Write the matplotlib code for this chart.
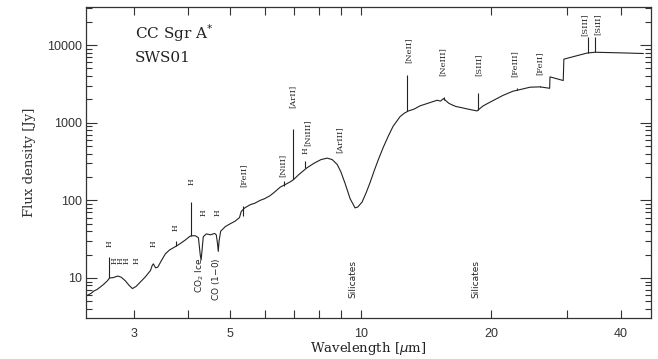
"""
ISO SWS01 spectrum of the Galactic Centre (Sgr A*)
"""

import numpy as np
import matplotlib
matplotlib.use("Agg")
import matplotlib.pyplot as plt
import matplotlib.ticker as ticker

plt.rc('font', size=9)

#------------------------------------------------------------------------
# continuum (wavelength in micron, flux density in Jy)
#------------------------------------------------------------------------
wave = [2.34, 2.38, 2.42, 2.46, 2.50, 2.55, 2.60, 2.63, 2.68, 2.75,
        2.80, 2.86, 2.92, 2.97, 3.03, 3.10, 3.18, 3.27, 3.30, 3.32,
        3.36, 3.40, 3.46, 3.54, 3.62, 3.74, 3.84, 3.94, 4.02, 4.06,
        4.15, 4.22, 4.26, 4.28, 4.30, 4.33, 4.40, 4.50, 4.60, 4.64,
        4.67, 4.69, 4.71, 4.75, 4.87, 5.00, 5.13, 5.25, 5.30, 5.40,
        5.56, 5.70, 5.86, 6.00, 6.18, 6.35, 6.52, 6.70, 6.90, 7.00,
        7.20, 7.50, 7.80, 8.10, 8.37, 8.60, 8.83, 9.00, 9.21, 9.46,
        9.71, 9.85, 10.08, 10.30, 10.52, 10.75, 10.98, 11.28, 11.60, 11.89,
        12.34, 12.60, 12.90, 13.30, 13.72, 14.30, 15.03, 15.30, 15.55, 15.70,
        16.00, 16.27, 16.60, 16.98, 17.70, 18.58, 19.20, 19.91, 21.33, 22.50,
        23.00, 24.64, 26.00, 27.35, 27.40, 29.40, 29.50, 33.35, 34.80, 40.00,
        45.00]
flux = [6.0, 6.3, 6.8, 7.1, 7.6, 8.3, 9.2, 10.0, 10.1, 10.6,
        10.2, 9.2, 8.0, 7.3, 7.8, 8.9, 10.3, 12.5, 14.5, 15.2,
        13.5, 13.8, 16.5, 20.5, 23.0, 25.5, 28.0, 31.0, 34.0, 35.0,
        35.0, 33.0, 20.0, 17.0, 22.0, 34.0, 37.0, 36.0, 37.5, 36.0,
        28.0, 22.0, 30.0, 40.0, 46.0, 50.0, 54.0, 60.0, 72.0, 80.0,
        88.0, 92.0, 100.0, 105.0, 115.0, 130.0, 148.0, 160.0, 175.0, 185.0,
        215.0, 260.0, 300.0, 335.0, 350.0, 335.0, 290.0, 235.0, 165.0, 105.0,
        80.0, 82.0, 95.0, 125.0, 170.0, 240.0, 330.0, 480.0, 680.0, 900.0,
        1200.0, 1320.0, 1420.0, 1500.0, 1650.0, 1780.0, 1950.0, 1900.0, 2050.0, 1950.0,
        1780.0, 1700.0, 1620.0, 1580.0, 1500.0, 1420.0, 1650.0, 1840.0, 2250.0, 2550.0,
        2620.0, 2870.0, 2900.0, 2780.0, 3900.0, 3500.0, 6600.0, 7900.0, 8100.0, 7950.0,
        7800.0]

# emission lines: wavelength, base, peak
line_wave = [2.626, 3.74, 4.052, 5.34, 6.636, 6.985, 7.46,
             12.81, 15.55, 18.71, 22.93, 25.99, 33.48, 34.82]
line_base = [10.0, 25.5, 35.0, 62.0, 155.0, 190.0, 262.0,
             1420.0, 1950.0, 1440.0, 2620.0, 2900.0, 7950.0, 8100.0]
line_peak = [18.6, 30.0, 95.0, 85.0, 175.0, 830.0, 320.0,
             4100.0, 2150.0, 2400.0, 2800.0, 3000.0, 12700.0, 12700.0]

# line identifications: text, wavelength, flux (centre of rotated label)
# (the H\nH\nH label is a group of three H lines side by side)
id_text = ["H", "H\nH\nH", "H", "H", "H", "H", "H", "H",
           "[FeII]", "[NiII]", "[ArII]", "H", "[NiIII]", "[ArIII]",
           "[NeII]", "[NeIII]", "[SIII]", "[FeIII]", "[FeII]",
           "[SIII]", "[SiII]"]
id_wave = [2.627, 2.79, 3.03, 3.32, 3.73, 4.06, 4.33, 4.665,
           5.36, 6.62, 6.98, 7.45, 7.53, 8.92,
           12.88, 15.51, 18.69, 22.75, 25.98,
           33.0, 35.2]
id_flux = [27.4, 16.6, 16.6, 28.0, 44.0, 172.0, 68.6, 68.6,
           212.0, 284.0, 2197.0, 443.0, 735.0, 597.0,
           8590.0, 6210.0, 5510.0, 5840.0, 5840.0,
           18580.0, 18580.0]

# absorption features: text, wavelength, flux at top of label
abs_text = ["CO$_2$ Ice", "CO (1$-$0)", "Silicates", "Silicates"]
abs_wave = [4.26, 4.64, 9.61, 18.49]
abs_top = [18.1, 18.1, 17.0, 17.0]


if __name__ == "__main__":

    fig = plt.figure(figsize=(6.58, 3.59), dpi=100)
    ax1 = fig.add_axes([86/658., 1-318/359., 565/658., 311/359.])

    ax1.plot(wave, flux, color='#222222', lw=0.8)
    ax1.vlines(line_wave, line_base, line_peak, color='#222222', lw=0.8)

    ax1.set_xscale('log')
    ax1.set_yscale('log')
    ax1.set_xlim(2.32, 46.9)
    ax1.set_ylim(3.05, 31000)

    #x ticks: every integer micron, labels only at some
    ax1.xaxis.set_major_locator(ticker.FixedLocator([3, 5, 10, 20, 40]))
    ax1.xaxis.set_major_formatter(ticker.FixedFormatter(["3", "5", "10", "20", "40"]))
    ax1.xaxis.set_minor_locator(ticker.FixedLocator([4, 6, 7, 8, 9, 30]))
    ax1.xaxis.set_minor_formatter(ticker.NullFormatter())

    ax1.yaxis.set_major_locator(ticker.FixedLocator([10, 100, 1000, 10000]))
    ax1.yaxis.set_major_formatter(ticker.FixedFormatter(["10", "100", "1000", "10000"]))
    ax1.yaxis.set_minor_locator(ticker.LogLocator(base=10, subs=np.arange(2, 10), numticks=20))
    ax1.yaxis.set_minor_formatter(ticker.NullFormatter())

    ax1.tick_params(which='both', direction='in', top=True, right=True,
                    color='#333333', width=0.8, labelsize=9, labelcolor='#333333')
    ax1.tick_params(axis='x', which='both', length=5.5, pad=7)
    ax1.tick_params(axis='y', which='major', length=8, pad=3)
    ax1.tick_params(axis='y', which='minor', length=4)
    for lab in ax1.get_xticklabels() + ax1.get_yticklabels():
        lab.set_family('Liberation Sans')
    for sp in ax1.spines.values():
        sp.set_color('#333333')
        sp.set_linewidth(0.9)

    ax1.set_xlabel(r"Wavelength [$\mu$m]", family='DejaVu Serif', fontsize=9.5,
                   color='#222222', labelpad=0)
    ax1.set_ylabel("Flux density [Jy]", family='DejaVu Serif', fontsize=9.5,
                   color='#333333', labelpad=8)

    for t, x, y in zip(id_text, id_wave, id_flux):
        fs = 5.5 if t.startswith("H") else 6
        ax1.text(x, y, t, rotation=90, ha='center', va='center',
                 family='DejaVu Serif', fontsize=fs, color='#222222',
                 linespacing=0.6, multialignment='center')
    for t, x, y in zip(abs_text, abs_wave, abs_top):
        ax1.text(x, y, t, rotation=90, ha='center', va='top',
                 family='DejaVu Sans', fontsize=6.5, color='#222222')

    ax1.text(0.087, 0.916, r"CC Sgr A$^{*}$", transform=ax1.transAxes,
             family='DejaVu Serif', fontsize=11, va='center', color='#222222')
    ax1.text(0.087, 0.836, "SWS01", transform=ax1.transAxes,
             family='DejaVu Serif', fontsize=11, va='center', color='#222222')

    fig.savefig("out.png", dpi=100)
